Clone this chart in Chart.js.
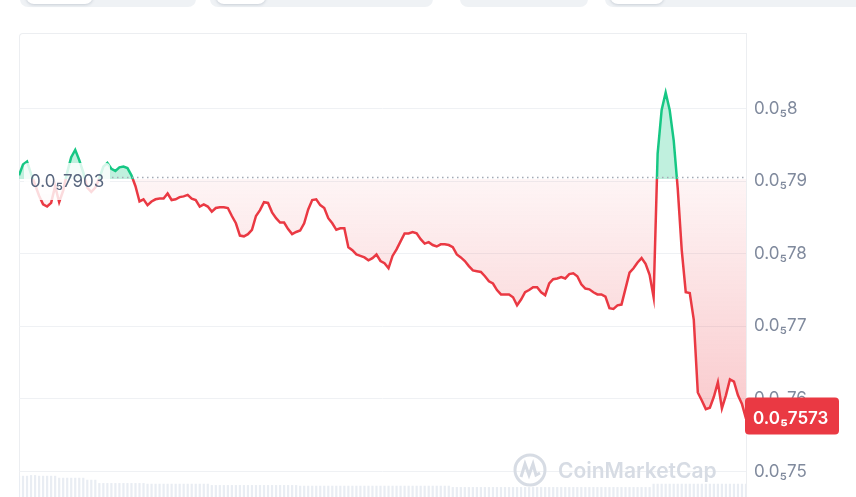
<!DOCTYPE html>
<html>
<head>
<meta charset="utf-8">
<script src="https://cdn.jsdelivr.net/npm/chart.js@4.4.1/dist/chart.umd.min.js"></script>
<style>
  html, body { margin: 0; padding: 0; background: #fff; }
  body { width: 856px; height: 497px; position: relative; overflow: hidden; font-family: Inter, "Noto Sans", sans-serif; }
  .tab { position: absolute; top: -20px; height: 27px; background: #eff2f5; border-radius: 8px; }
  .pill { position: absolute; top: -20px; height: 24px; background: #fff; border-radius: 8px; box-shadow: 0 1px 3px rgba(88,102,126,0.25); }
  #frame { position: absolute; left: 19px; top: 33px; width: 728px; height: 470px; box-sizing: border-box;
           border-left: 1px solid #eceef1; border-top: 1px solid #eceef1; border-top-left-radius: 4px; }
  #wrap { position: absolute; left: 19px; top: 33px; width: 837px; height: 464px; }
</style>
</head>
<body>
<div class="tab" style="left:20px;width:176px"></div>
<div class="pill" style="left:26px;width:67px"></div>
<div class="tab" style="left:210px;width:223px"></div>
<div class="pill" style="left:216px;width:50px"></div>
<div class="tab" style="left:460px;width:128px"></div>
<div class="tab" style="left:605px;width:270px"></div>
<div class="pill" style="left:610px;width:54px"></div>
<div id="frame"></div>
<div id="wrap"><canvas id="chart" width="837" height="464"></canvas></div>
<script>
// prices are in millionths (0.0₅7903 = 0.000007903)
const basePrice = 7.903;
const lastPrice = 7.573;
const tickValues = [7.5, 7.6, 7.7, 7.8, 7.9, 8.0];

const prices = [
  7.908, 7.923, 7.927, 7.910, 7.895, 7.880, 7.868, 7.865, 7.870, 7.893,
  7.871, 7.887, 7.912, 7.933, 7.943, 7.929, 7.912, 7.891, 7.885, 7.891,
  7.904, 7.920, 7.925, 7.917, 7.914, 7.919, 7.920, 7.918, 7.908, 7.893,
  7.872, 7.875, 7.867, 7.872, 7.875, 7.876, 7.876, 7.883, 7.874, 7.875,
  7.878, 7.879, 7.881, 7.876, 7.874, 7.865, 7.868, 7.865, 7.858, 7.863,
  7.864, 7.864, 7.863, 7.852, 7.842, 7.825, 7.824, 7.827, 7.833, 7.852,
  7.860, 7.871, 7.870, 7.857, 7.849, 7.843, 7.843, 7.834, 7.827, 7.830,
  7.832, 7.842, 7.861, 7.874, 7.875, 7.867, 7.863, 7.849, 7.842, 7.833,
  7.835, 7.835, 7.809, 7.805, 7.799, 7.797, 7.795, 7.791, 7.794, 7.799,
  7.790, 7.787, 7.780, 7.797, 7.806, 7.817, 7.828, 7.828, 7.830, 7.828,
  7.820, 7.814, 7.816, 7.812, 7.810, 7.813, 7.813, 7.812, 7.809, 7.799,
  7.795, 7.790, 7.783, 7.777, 7.776, 7.775, 7.769, 7.762, 7.759, 7.750,
  7.744, 7.744, 7.744, 7.740, 7.729, 7.737, 7.747, 7.750, 7.754, 7.754,
  7.747, 7.743, 7.759, 7.765, 7.766, 7.768, 7.766, 7.772, 7.773, 7.769,
  7.758, 7.752, 7.751, 7.747, 7.744, 7.744, 7.741, 7.725, 7.724, 7.729,
  7.730, 7.752, 7.774, 7.780, 7.788, 7.794, 7.786, 7.771, 7.740, 7.938,
  7.998, 8.022, 7.998, 7.956, 7.890, 7.805, 7.747, 7.746, 7.709, 7.609,
  7.598, 7.586, 7.588, 7.603, 7.623, 7.587, 7.605, 7.627, 7.624, 7.605,
  7.593, 7.573
];

const volumes = [
  32, 32, 32, 33, 33, 32, 32, 32, 32, 32,
  29, 29, 29, 29, 29, 29, 29, 26, 26, 26,
  21, 21, 21, 21, 21, 21, 21, 21, 21, 21,
  21, 21, 20, 20, 20, 20, 20, 20, 20, 20,
  20, 20, 20, 20, 20, 20, 20, 20, 18, 18,
  18, 18, 18, 18, 18, 18, 18, 18, 18, 18,
  18, 18, 18, 18, 18, 18, 18, 18, 18, 18,
  17, 17, 17, 17, 17, 17, 17, 17, 17, 17,
  17, 17, 17, 17, 17, 17, 17, 17, 17, 17,
  17, 17, 17, 17, 17, 17, 17, 17, 17, 17,
  17, 17, 17, 17, 17, 17, 17, 17, 15, 15,
  15, 15, 15, 15, 15, 15, 15, 15, 15, 15,
  15, 15, 15, 15, 15, 15, 15, 15, 15, 15,
  15, 15, 15, 15, 15, 15, 15, 15, 15, 15,
  15, 15, 15, 15, 15, 15, 15, 15, 15, 15,
  15, 15, 15, 15, 15, 15, 15, 15, 20, 20,
  20, 20, 20, 20, 20, 20, 20, 20, 20, 20,
  20, 20, 20, 20, 20, 20, 20, 20, 20, 20,
  20, 20
];

const labels = prices.map((_, i) => i);

const GREEN = '#16c784';
const RED = '#ea3943';

function fmt(v) {
  const digits = v.toFixed(4).replace('.', '').replace(/0+$/, '');
  return '0.0\u2085' + digits;
}

// green above the open price, red below it
function splitStroke(chart) {
  const a = chart.chartArea;
  if (!a) return RED;
  const yb = chart.scales.y.getPixelForValue(basePrice);
  const f = Math.min(1, Math.max(0, (yb - a.top) / (a.bottom - a.top)));
  const g = chart.ctx.createLinearGradient(0, a.top, 0, a.bottom);
  g.addColorStop(0, GREEN);
  g.addColorStop(f, GREEN);
  g.addColorStop(f, RED);
  g.addColorStop(1, RED);
  return g;
}

function redFill(chart) {
  const a = chart.chartArea;
  if (!a) return 'rgba(234,57,67,0.1)';
  const yb = chart.scales.y.getPixelForValue(basePrice);
  const g = chart.ctx.createLinearGradient(0, yb, 0, a.bottom);
  g.addColorStop(0, 'rgba(234,57,67,0.05)');
  g.addColorStop(1, 'rgba(234,57,67,0.34)');
  return g;
}

function roundRect(ctx, x, y, w, h, r) {
  ctx.beginPath();
  ctx.moveTo(x + r, y);
  ctx.lineTo(x + w - r, y);
  ctx.quadraticCurveTo(x + w, y, x + w, y + r);
  ctx.lineTo(x + w, y + h - r);
  ctx.quadraticCurveTo(x + w, y + h, x + w - r, y + h);
  ctx.lineTo(x + r, y + h);
  ctx.quadraticCurveTo(x, y + h, x, y + h - r);
  ctx.lineTo(x, y + r);
  ctx.quadraticCurveTo(x, y, x + r, y);
  ctx.closePath();
}

const overlay = {
  id: 'overlay',
  afterDatasetsDraw(chart) {
    const { ctx, chartArea: a, scales: { y } } = chart;
    const yb = y.getPixelForValue(basePrice);
    const yp = y.getPixelForValue(lastPrice);
    ctx.save();

    // open price label
    const bx = a.left + 5, bw = 86;
    ctx.fillStyle = 'rgba(255,255,255,0.82)';
    roundRect(ctx, bx, yb - 16, bw, 37, 4);
    ctx.fill();
    ctx.fillStyle = '#58667e';
    ctx.font = '17px Inter';
    ctx.textBaseline = 'alphabetic';
    ctx.textAlign = 'left';
    ctx.fillText(fmt(basePrice), a.left + 11, yb + 8);

    // dotted open line
    ctx.strokeStyle = '#a3aab6';
    ctx.lineWidth = 1.5;
    ctx.setLineDash([1.5, 3.5]);
    ctx.beginPath();
    ctx.moveTo(bx + bw + 2, yb - 1.5);
    ctx.lineTo(a.right, yb - 1.5);
    ctx.stroke();
    ctx.setLineDash([]);

    // watermark
    const cx = a.left + 511, cy = a.top + 437;
    ctx.strokeStyle = '#d7dce4';
    ctx.lineWidth = 3;
    ctx.beginPath();
    ctx.arc(cx, cy, 15, 0, Math.PI * 2);
    ctx.stroke();
    ctx.beginPath();
    ctx.moveTo(cx - 9, cy + 7);
    ctx.lineTo(cx - 5, cy - 6);
    ctx.lineTo(cx - 1, cy + 5);
    ctx.lineTo(cx + 3, cy - 6);
    ctx.lineTo(cx + 6, cy + 5);
    ctx.lineTo(cx + 10, cy + 3);
    ctx.stroke();
    ctx.fillStyle = '#d7dce4';
    ctx.font = '600 21px Inter';
    ctx.fillText('CoinMarketCap', a.left + 539, a.top + 445);

    // current price tag
    ctx.fillStyle = RED;
    roundRect(ctx, a.right - 1, yp - 21, 94, 37, 4);
    ctx.fill();
    ctx.fillStyle = '#fff';
    ctx.font = '600 17px Inter';
    ctx.fillText(fmt(lastPrice), a.right + 7, yp + 5);
    ctx.restore();
  }
};

new Chart(document.getElementById('chart').getContext('2d'), {
  type: 'line',
  data: {
    labels: labels,
    datasets: [
      {
        type: 'line',
        data: prices,
        yAxisID: 'y',
        borderWidth: 2.5,
        pointRadius: 0,
        tension: 0,
        borderColor: c => splitStroke(c.chart),
        backgroundColor: c => redFill(c.chart),
        fill: { target: { value: basePrice }, above: 'rgba(22,199,132,0.27)' },
        order: 0
      },
      {
        type: 'bar',
        data: volumes,
        yAxisID: 'yv',
        backgroundColor: '#e9edf3',
        barPercentage: 0.55,
        categoryPercentage: 1,
        order: 1
      }
    ]
  },
  options: {
    responsive: false,
    animation: false,
    events: [],
    layout: { padding: 0, autoPadding: false },
    plugins: { legend: { display: false }, tooltip: { enabled: false } },
    scales: {
      x: { display: false, offset: false },
      y: {
        position: 'right',
        min: 7.465,
        max: 8.104,
        afterBuildTicks: s => { s.ticks = tickValues.map(v => ({ value: v })); },
        afterFit: s => { s.width = 110; s.paddingTop = 0; s.paddingBottom = 0; },
        grid: { color: '#eff1f4', drawTicks: false },
        border: { display: true, color: '#eceef1' },
        ticks: {
          padding: 8,
          color: '#808a9d',
          font: { family: 'Inter', size: 17 },
          callback: v => fmt(v)
        }
      },
      yv: { display: false, min: 0, max: 700 }
    }
  },
  plugins: [overlay]
});
</script>
</body>
</html>
